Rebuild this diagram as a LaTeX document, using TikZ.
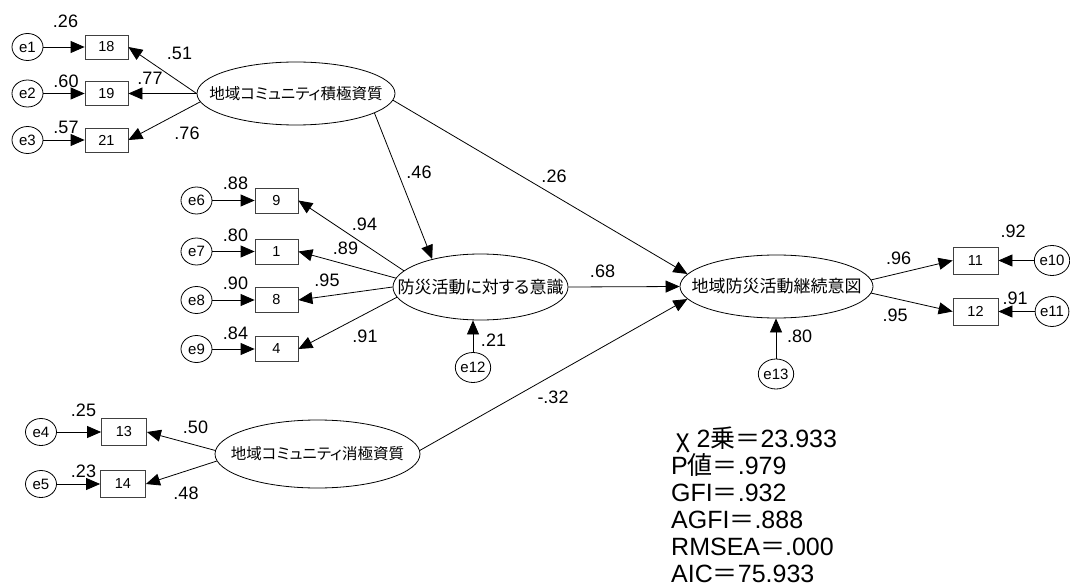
\documentclass[tikz,border=0pt]{standalone}
\usepackage{fontspec}
\setmainfont{Liberation Sans}
\newfontfamily\jp[RawFeature=+palt]{Noto Sans CJK JP}
\newfontfamily\jpf{Noto Sans CJK JP}
\usetikzlibrary{shapes.geometric,arrows.meta}
\newcommand{\zw}[1]{\makebox[0pt]{#1}}
\begin{document}
\begin{tikzpicture}[x=1pt,y=-1pt,
  obs/.style={draw=black!75,line width=0.8pt,minimum width=43pt,minimum height=24pt,inner sep=0pt,font=\fontsize{14.5}{14.5}\selectfont},
  obsb/.style={obs,minimum width=45pt,minimum height=27pt},
  err/.style={ellipse,draw,line width=0.8pt,minimum width=31pt,minimum height=27pt,inner sep=0pt,font=\fontsize{15}{15}\selectfont},
  errb/.style={err,minimum width=30pt,minimum height=30pt},
  lat/.style={ellipse,draw,line width=0.8pt,inner sep=0pt,font=\jp\fontsize{17}{17}\selectfont},
  latk/.style={lat,font=\jp\fontsize{15.5}{15.5}\selectfont},
  coef/.style={inner sep=0pt,font=\fontsize{18}{18}\selectfont},
  pth/.style={draw,line width=0.8pt,-{Triangle[length=14pt,width=12pt]}},
  stat/.style={anchor=base west,inner sep=0pt,font=\fontsize{25}{27}\selectfont}
]
\fill[white] (0,0) rectangle (1070,588);
\useasboundingbox (0,0) rectangle (1070,588);

% latent variables
\node[latk,minimum width=198pt,minimum height=63pt] (L1) at (296,93.5) {\zw{地域コミュニティ積極資質}};
\node[lat,minimum width=175pt,minimum height=66pt] (M) at (480.5,287) {\zw{防災活動に対する意識}};
\node[lat,minimum width=193pt,minimum height=63pt] (R) at (776.5,286.5) {\zw{地域防災活動継続意図}};
\node[latk,minimum width=205pt,minimum height=68pt] (L2) at (317.5,454) {\zw{地域コミュニティ消極資質}};

% observed variables
\node[obs] (b18) at (106.5,47) {18};
\node[obs] (b19) at (106.5,93.5) {19};
\node[obs] (b21) at (106.5,140) {21};
\node[obs,minimum height=25pt] (b9) at (276.5,200.5) {9};
\node[obs,minimum height=25pt] (b1) at (276.5,251.5) {1};
\node[obs,minimum height=25pt] (b8) at (276.5,300) {8};
\node[obs,minimum height=25pt] (b4) at (276.5,349) {4};
\node[obsb] (b11) at (975.5,260.5) {11};
\node[obsb] (b12) at (975.5,311.5) {12};
\node[obsb] (b13) at (124,432) {13};
\node[obsb] (b14) at (123,484) {14};

% error variables
\node[err] (e1) at (27.5,47) {e1};
\node[err] (e2) at (27.5,93.5) {e2};
\node[err] (e3) at (27.5,140) {e3};
\node[err] (e6) at (196.5,200.5) {e6};
\node[err] (e7) at (196.5,251.5) {e7};
\node[err] (e8) at (196.5,300) {e8};
\node[err] (e9) at (196.5,349) {e9};
\node[err] (e4) at (41,432) {e4};
\node[err] (e5) at (41,484) {e5};
\node[errb] (e10) at (1052,260.5) {e10};
\node[errb] (e11) at (1052,311.5) {e11};
\node[errb] (e12) at (473,367.5) {e12};
\node[errb] (e13) at (776,374) {e13};

% error paths
\draw[pth] (e1) -- (b18);
\draw[pth] (e2) -- (b19);
\draw[pth] (e3) -- (b21);
\draw[pth] (e6) -- (b9);
\draw[pth] (e7) -- (b1);
\draw[pth] (e8) -- (b8);
\draw[pth] (e9) -- (b4);
\draw[pth] (e4) -- (b13);
\draw[pth] (e5) -- (b14);
\draw[pth] (e10) -- (b11);
\draw[pth] (e11) -- (b12);
\draw[pth] (e12.north) -- (e12.north |- M.south);
\draw[pth] (e13.north) -- (e13.north |- R.south);

% loadings
\draw[pth] (L1.west) -- (b18.east);
\draw[pth] (L1.west) -- (b19.east);
\draw[pth] (L1.185) -- (b21.east);
\draw[pth] (M.168) -- (b9.east);
\draw[pth] (M.174) -- (b1.east);
\draw[pth] (M.180) -- (b8.east);
\draw[pth] (M.187) -- (b4.east);
\draw[pth] (L2.178) -- (b13.east);
\draw[pth] (L2.184) -- (b14.east);
\draw[pth] (R.4) -- (b11.west);
\draw[pth] (R.356) -- (b12.west);

% structural paths
\draw[pth] (L1.346) -- (M.150);
\draw[pth] (L1.356) -- (R.172);
\draw[pth] (M.east) -- (R.180);
\draw[pth] (L2.2) -- (R.188);

% coefficients
\node[coef] (c1) at (65.5,21) {.26};
\node[coef] (c2) at (179.5,53.5) {.51};
\node[coef] (c3) at (66,81) {.60};
\node[coef] (c4) at (150,78) {.77};
\node[coef] (c5) at (66,127) {.57};
\node[coef] (c6) at (187,133.5) {.76};
\node[coef] (c7) at (235.5,183.5) {.88};
\node[coef] (c8) at (235.5,235) {.80};
\node[coef] (c9) at (235.5,283.5) {.90};
\node[coef] (c10) at (235.5,333) {.84};
\node[coef] (c11) at (364.5,224.5) {.94};
\node[coef] (c12) at (345.5,248.5) {.89};
\node[coef] (c13) at (327,280) {.95};
\node[coef] (c14) at (365,336.5) {.91};
\node[coef] (c15) at (493.5,340) {.21};
\node[coef] (c16) at (419,172.5) {.46};
\node[coef] (c17) at (554,176) {.26};
\node[coef] (c18) at (602.5,271) {.68};
\node[coef] (c19) at (553,397) {-.32};
\node[coef] (c20) at (898.5,258.5) {.96};
\node[coef] (c21) at (895,315.5) {.95};
\node[coef] (c22) at (1013,231) {.92};
\node[coef] (c23) at (1015,298.5) {.91};
\node[coef] (c24) at (799.5,336.5) {.80};
\node[coef] (c25) at (83.5,410) {.25};
\node[coef] (c26) at (83.5,471.5) {.23};
\node[coef] (c27) at (195.5,427.5) {.50};
\node[coef] (c28) at (186,493.5) {.48};

% fit statistics
\node[stat] (s1) at (676,447) {{\jpf χ}\hspace{7pt}2{\jpf 乗＝}23.933};
\node[stat] (s2) at (671,474) {P{\jpf 値＝}.979};
\node[stat] (s3) at (671,501) {GFI{\jpf ＝}.932};
\node[stat] (s4) at (671,528) {AGFI{\jpf ＝}.888};
\node[stat] (s5) at (671,555) {RMSEA{\jpf ＝}.000};
\node[stat] (s6) at (671,582) {AIC{\jpf ＝}75.933};
\end{tikzpicture}
\end{document}
